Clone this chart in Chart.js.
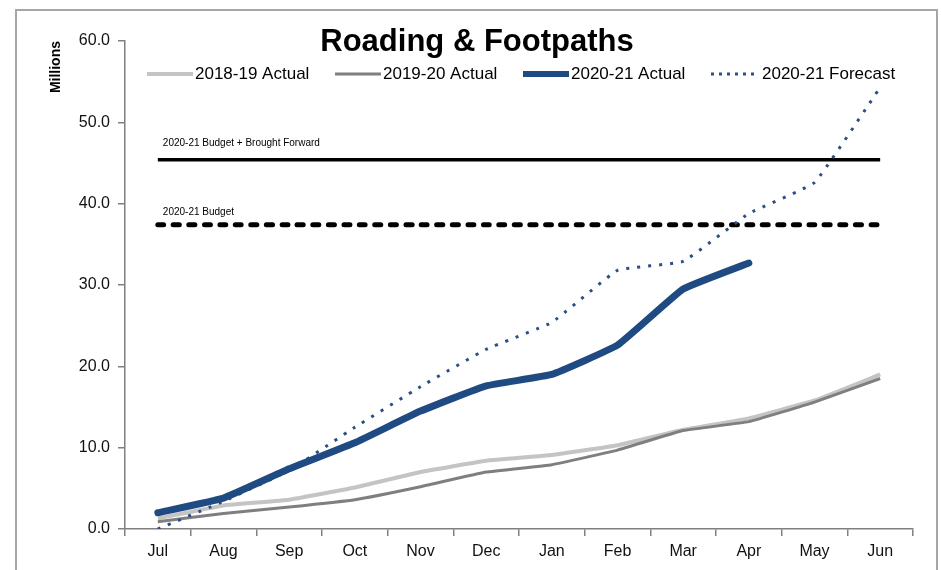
<!DOCTYPE html>
<html>
<head>
<meta charset="utf-8">
<script src="https://cdn.jsdelivr.net/npm/chart.js@4.4.0/dist/chart.umd.min.js"></script>
<style>
  html, body { margin: 0; padding: 0; background: #fff; }
  #wrap { position: relative; width: 941px; height: 570px; }
</style>
</head>
<body>
<div id="wrap"><canvas id="grafico" width="941" height="570"></canvas></div>
<script>
// Dados (milhões)
const meses = ["Jul", "Aug", "Sep", "Oct", "Nov", "Dec", "Jan", "Feb", "Mar", "Apr", "May", "Jun"];
const actual1819 = [1.3, 2.9, 3.6, 5.1, 7.0, 8.4, 9.1, 10.3, 12.2, 13.6, 15.8, 19.0];
const actual1920 = [0.9, 1.9, 2.7, 3.6, 5.2, 7.0, 7.9, 9.7, 12.1, 13.2, 15.6, 18.5];
const actual2021 = [2.0, 3.8, 7.4, 10.6, 14.5, 17.6, 19.0, 22.6, 29.5, 32.7, null, null];
const forecast2021 = [0.0, 3.4, 7.2, 12.5, 17.5, 22.1, 25.4, 31.8, 32.9, 38.8, 42.6, 54.3];
const budgetBF = [45.4, 45.4, 45.4, 45.4, 45.4, 45.4, 45.4, 45.4, 45.4, 45.4, 45.4, 45.4];
const budget = [37.4, 37.4, 37.4, 37.4, 37.4, 37.4, 37.4, 37.4, 37.4, 37.4, 37.4, 37.4];
const yTicks = [0, 10, 20, 30, 40, 50, 60];

const FONTE = "'Liberation Sans', Arial, sans-serif";

// Posições da legenda (x inicial da amostra de cada série)
const legendaX = [147, 335, 523, 711];

// Moldura + título + legenda + rótulos das linhas de orçamento
const extras = {
  id: "extras",
  beforeDraw(chart) {
    const ctx = chart.ctx;
    ctx.save();
    ctx.strokeStyle = "#a6a6a6";
    ctx.lineWidth = 2;
    ctx.strokeRect(16, 10, 921, 600);
    ctx.restore();
  },
  afterDraw(chart) {
    const ctx = chart.ctx;
    const x = chart.scales.x;
    const y = chart.scales.y;
    ctx.save();
    ctx.fillStyle = "#000";
    ctx.textAlign = "center";
    ctx.textBaseline = "middle";
    ctx.font = "bold 31px " + FONTE;
    ctx.fillText("Roading & Footpaths", 477, 42);

    // legenda
    ctx.font = "17px " + FONTE;
    ctx.textAlign = "left";
    chart.data.datasets.slice(0, 4).forEach((ds, i) => {
      const lx = legendaX[i];
      const ly = 74;
      ctx.save();
      ctx.strokeStyle = ds.borderColor;
      ctx.lineWidth = Math.min(ds.borderWidth, 6);
      ctx.setLineDash(ds.borderDash ? [3, 5] : []);
      ctx.lineCap = "butt";
      ctx.beginPath();
      ctx.moveTo(lx, ly);
      ctx.lineTo(lx + 46, ly);
      ctx.stroke();
      ctx.restore();
      ctx.fillStyle = "#000";
      ctx.fillText(ds.label, lx + (ds.borderDash ? 51 : 48), ly);
    });

    ctx.font = "10px " + FONTE;
    const x0 = x.getPixelForValue(0) + 5;
    ctx.fillText("2020-21 Budget + Brought Forward", x0, y.getPixelForValue(budgetBF[0]) - 16);
    ctx.fillText("2020-21 Budget", x0, y.getPixelForValue(budget[0]) - 13);
    ctx.restore();
  }
};

new Chart(document.getElementById("grafico"), {
  type: "line",
  data: {
    labels: meses,
    datasets: [
      {
        label: "2018-19 Actual",
        data: actual1819,
        borderColor: "#c4c4c4",
        borderWidth: 4,
        order: 3
      },
      {
        label: "2019-20 Actual",
        data: actual1920,
        borderColor: "#7f7f7f",
        borderWidth: 3,
        order: 2
      },
      {
        label: "2020-21 Actual",
        data: actual2021,
        borderColor: "#1f4a82",
        borderWidth: 7,
        borderCapStyle: "round",
        order: 0
      },
      {
        label: "2020-21 Forecast",
        data: forecast2021,
        borderColor: "#2c4f84",
        borderWidth: 3,
        borderDash: [3, 8],
        order: 1
      },
      {
        label: "budgetBF",
        data: budgetBF,
        borderColor: "#000",
        borderWidth: 3.5,
        order: 4
      },
      {
        label: "budget",
        data: budget,
        borderColor: "#000",
        borderWidth: 5,
        borderDash: [6, 9.5],
        borderCapStyle: "round",
        order: 5
      }
    ]
  },
  options: {
    responsive: false,
    animation: false,
    layout: { padding: { left: 15, right: 28, top: 41, bottom: 0 } },
    elements: {
      point: { radius: 0, hoverRadius: 0 },
      line: { tension: 0.1, fill: false }
    },
    plugins: {
      title: { display: false },
      tooltip: { enabled: false },
      legend: { display: false }
    },
    scales: {
      x: {
        offset: true,
        afterFit: s => { s.height = 41; },
        grid: {
          offset: true,
          drawOnChartArea: false,
          drawTicks: true,
          tickLength: 7,
          color: "#808080",
          lineWidth: 1.5
        },
        border: { display: true, color: "#808080", width: 1.5 },
        ticks: {
          color: "#111",
          padding: 6,
          font: { family: FONTE, size: 16 }
        }
      },
      y: {
        min: 0,
        max: 60,
        afterFit: s => { s.width = 110; },
        afterBuildTicks: s => { s.ticks = yTicks.map(v => ({ value: v })); },
        grid: {
          drawOnChartArea: false,
          drawTicks: true,
          tickLength: 7,
          color: "#808080",
          lineWidth: 1.5
        },
        border: { display: true, color: "#808080", width: 1.5 },
        ticks: {
          color: "#111",
          padding: 8,
          font: { family: FONTE, size: 16 },
          callback: v => v.toFixed(1)
        },
        title: {
          display: true,
          text: "Millions",
          align: "end",
          color: "#000",
          padding: { top: 33 },
          font: { family: FONTE, size: 14, weight: "bold" }
        }
      }
    }
  },
  plugins: [extras]
});
</script>
</body>
</html>
